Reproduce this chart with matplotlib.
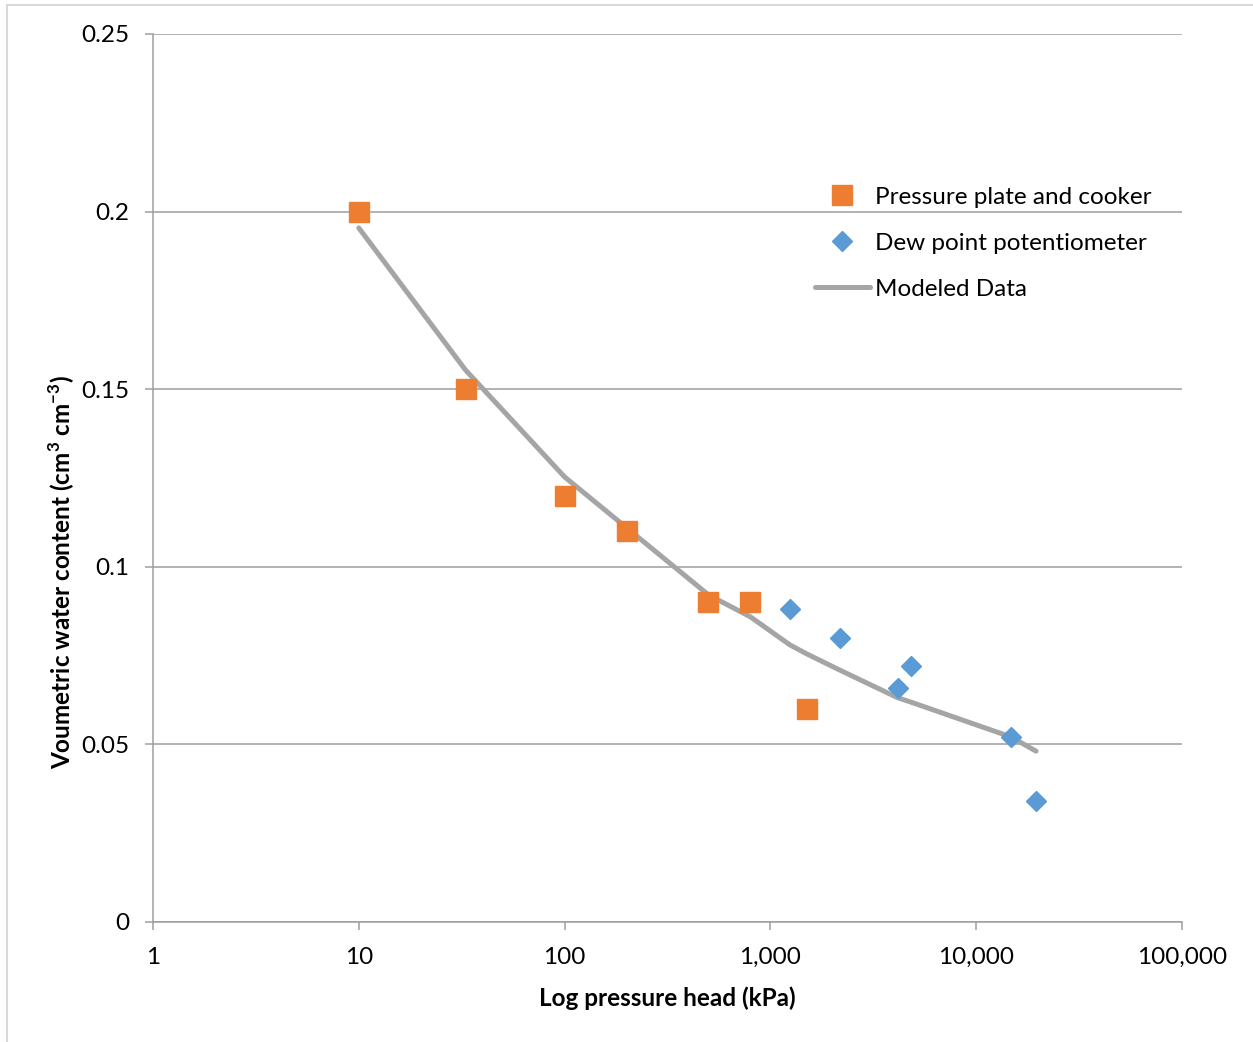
import matplotlib
matplotlib.use("Agg")
import matplotlib.pyplot as plt
from matplotlib.ticker import FixedLocator, FixedFormatter, NullLocator
from matplotlib.lines import Line2D

plt.rcParams['font.family'] = ['Lato', 'DejaVu Sans']
plt.rcParams['mathtext.fontset'] = 'custom'
plt.rcParams['mathtext.rm'] = 'Lato'
plt.rcParams['mathtext.bf'] = 'Lato:bold'

# measured data
plate_x = [10, 33, 100, 200, 500, 800, 1500]
plate_y = [0.200, 0.150, 0.120, 0.110, 0.090, 0.090, 0.060]

dew_x = [1245, 2178, 4169, 4822, 14760, 19530]
dew_y = [0.088, 0.080, 0.066, 0.072, 0.052, 0.034]

# modeled curve
model_x = [10, 33, 100, 200, 500, 800, 1245, 1500, 2178, 4169, 4822, 14760, 19530]
model_y = [0.1954, 0.1554, 0.1253, 0.1110, 0.0921, 0.0859, 0.0780, 0.0755,
           0.0709, 0.0631, 0.0619, 0.0521, 0.0481]

x_ticks = [1, 10, 100, 1000, 10000, 100000]
x_tick_labels = ["1", "10", "100", "1,000", "10,000", "100,000"]
y_ticks = [0, 0.05, 0.1, 0.15, 0.2, 0.25]
y_tick_labels = ["0", "0.05", "0.1", "0.15", "0.2", "0.25"]

ORANGE = "#ED7D31"
BLUE = "#5B9BD5"
GREY = "#A5A5A5"
AXIS = "#9E9E9E"
FS = 17.5

fig = plt.figure(figsize=(12.53, 10.42), dpi=100)
ax = fig.add_axes([153 / 1253, 1 - 922 / 1042, 1029 / 1253, 888 / 1042])

# outer chart border (left and top visible)
fig.add_artist(Line2D([7 / 1253, 7 / 1253], [0, 1 - 5 / 1042], transform=fig.transFigure,
                      color="#D9D9D9", lw=1.5))
fig.add_artist(Line2D([7 / 1253, 1], [1 - 5 / 1042, 1 - 5 / 1042], transform=fig.transFigure,
                      color="#D9D9D9", lw=1.5))

ax.plot(model_x, model_y, color=GREY, lw=3.6, solid_capstyle="round", zorder=3,
        label="Modeled Data")
ax.plot(plate_x, plate_y, ls="none", marker="s", ms=14, color=ORANGE, mec=ORANGE,
        zorder=4, label="Pressure plate and cooker")
ax.plot(dew_x, dew_y, ls="none", marker="D", ms=10, color=BLUE, mec=BLUE,
        zorder=4, label="Dew point potentiometer")

ax.set_xscale("log")
ax.set_xlim(1, 100000)
ax.set_ylim(0, 0.25)
ax.xaxis.set_major_locator(FixedLocator(x_ticks))
ax.xaxis.set_major_formatter(FixedFormatter(x_tick_labels))
ax.xaxis.set_minor_locator(NullLocator())
ax.yaxis.set_major_locator(FixedLocator(y_ticks))
ax.yaxis.set_major_formatter(FixedFormatter(y_tick_labels))

ax.grid(axis="y", color=AXIS, lw=1.1, zorder=0)
ax.set_axisbelow(True)
for s in ["top", "right"]:
    ax.spines[s].set_visible(False)
for s in ["left", "bottom"]:
    ax.spines[s].set_color(AXIS)
    ax.spines[s].set_linewidth(1.1)
ax.tick_params(axis="both", which="major", direction="out", length=6, width=1.1,
               color=AXIS, labelsize=FS, labelcolor="black")
ax.tick_params(axis="y", pad=11)
ax.tick_params(axis="x", pad=12)

ax.set_xlabel("Log pressure head (kPa)", fontsize=FS, fontweight="bold", labelpad=13)
ax.set_ylabel(r"Voumetric water content (cm$^\mathbf{3}$ cm$^\mathbf{-3}$)",
              fontsize=FS, fontweight="bold")
ax.yaxis.set_label_coords(-0.074, 0.394)

handles, labels = ax.get_legend_handles_labels()
order = [1, 2, 0]
leg = ax.legend([handles[i] for i in order], [labels[i] for i in order],
                loc="upper left", bbox_to_anchor=(652 / 1029, 1 - 143 / 888),
                frameon=False, fontsize=FS, handlelength=2.26, handletextpad=0.2,
                labelspacing=1.03, borderaxespad=0)

fig.savefig("out.png", dpi=100)
